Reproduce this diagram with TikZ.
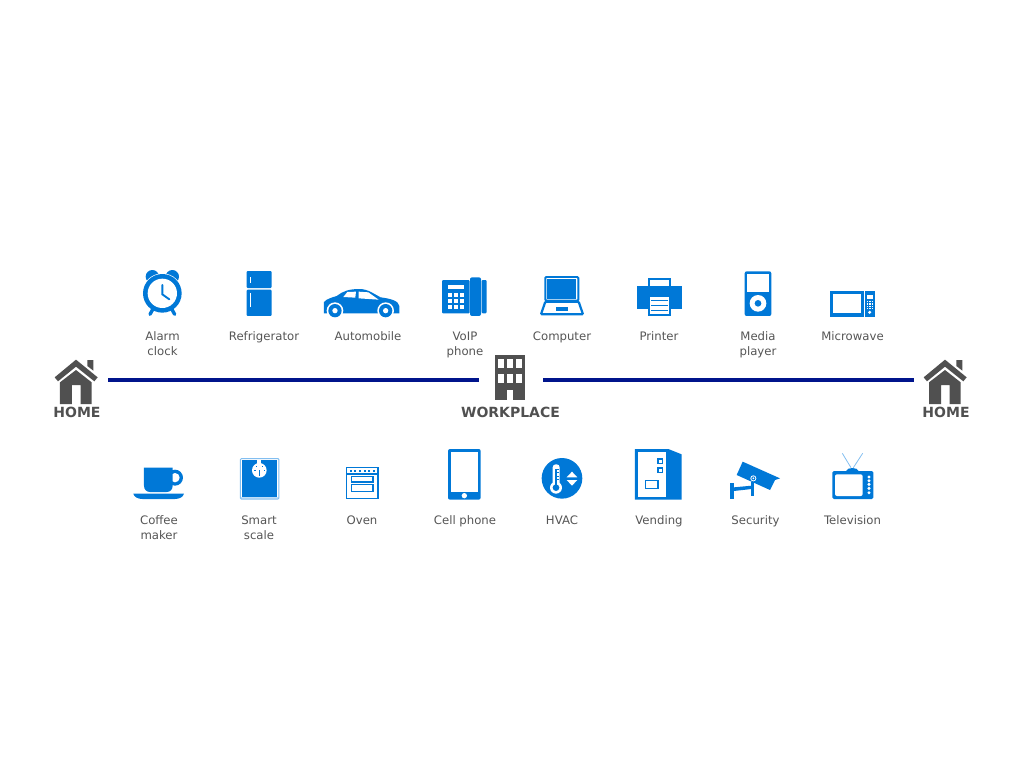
\documentclass[tikz,border=0pt]{standalone}
\usepackage{fontspec}
\setmainfont{DejaVu Sans}
\definecolor{iconblue}{RGB}{0,120,215}
\definecolor{lightblue}{RGB}{130,190,240}
\definecolor{paleblue}{RGB}{190,222,248}
\definecolor{darkgrey}{RGB}{80,80,80}
\definecolor{labelgrey}{RGB}{85,85,85}
\definecolor{linkblue}{RGB}{0,20,140}
\tikzset{
  ic/.style={fill=iconblue,draw=none},
  wh/.style={fill=white,draw=none},
  gr/.style={fill=darkgrey,draw=none},
  ol/.style={draw=iconblue,fill=white,line width=2.2pt},
  thinol/.style={draw=iconblue,line width=1.6pt},
  lbl/.style={anchor=north,align=center,inner sep=0pt,text=labelgrey,font=\fontsize{11.7}{15}\selectfont,execute at begin node={\rule{0pt}{9pt}}},
  hdr/.style={anchor=center,inner sep=0pt,text=darkgrey,font=\fontsize{14}{16}\selectfont\bfseries},
  anchorbox/.style={inner sep=0pt,minimum height=48pt},
  link/.style={draw=linkblue,line width=3.6pt},
  homepic/.pic={
    \fill[gr] (60,97)--(108,60)--(155,97)--(155,162)--(122,162)--(122,105)--(96,105)--(96,162)--(60,162)--cycle;
    \fill[gr] (44,82)--(108,29)--(173,82)--(163,94)--(108,50)--(54,94)--cycle;
    \fill[gr] (142,30)--(160,30)--(160,62)--(142,48)--cycle;
  }
}
\begin{document}
\begin{tikzpicture}[x=1pt,y=-1pt]
\useasboundingbox (0,0) rectangle (1024,768);
% anchors for the connectors
\node[anchorbox,minimum width=62pt] (homeL) at (77,380) {};
\node[anchorbox,minimum width=64pt] (work) at (511,380) {};
\node[anchorbox,minimum width=63pt] (homeR) at (945.5,380) {};
\draw[link] (homeL.east) -- (work.west);
\draw[link] (work.east) -- (homeR.west);
% home icons
\pic[scale=0.3333] at (40,350) {homepic};
\pic[scale=0.3333] at (909,350) {homepic};
% workplace
\begin{scope}[shift={(450,345)},scale=0.3333]
\fill[gr] (135,29) rectangle (226,164);
\foreach \wx in {145,172,199}{\foreach \wy in {41,87}{
  \fill[wh] (\wx,\wy) rectangle +(18,28);}}
\fill[wh] (172,135) rectangle (190,164);
\end{scope}
% top row, first group
\begin{scope}[shift={(120,260)},scale=0.3333]
% alarm clock
\fill[ic] (97,50) circle (20); \fill[ic] (157,50) circle (20);
\fill[wh] (127,100) circle (60);
\draw[iconblue,line width=3.4pt,line cap=round] (100,145)--(90,163);
\draw[iconblue,line width=3.4pt,line cap=round] (154,145)--(164,163);
\fill[ic] (127,100) circle (58);
\fill[wh] (127,100) circle (44);
\draw[iconblue,line width=1.9pt,line cap=round] (127,75)--(127,103)--(148,118);
% refrigerator
\fill[ic,rounded corners=1pt] (380,33) rectangle (455,84);
\fill[ic,rounded corners=1pt] (380,89) rectangle (455,168);
\fill[wh] (389,50) rectangle (394,70);
\fill[wh] (389,100) rectangle (394,140);
% automobile
\fill[ic] (612,158)--(612,126)..controls (620,116) and (638,112) ..(650,108)
  ..controls (668,94) and (686,87) ..(718,87)..controls (745,87) and (762,102) ..(782,112)
  ..controls (812,116) and (836,122) ..(838,138)--(838,160)--(612,160)--cycle;
\fill[wh] (670,111)--(682,96)--(708,95)--(706,113)--cycle;
\fill[wh] (716,95)--(745,97)--(776,119)--(716,115)--cycle;
\foreach \cx in {645,797}{
  \fill[wh] (\cx,152) circle (25);
  \fill[ic] (\cx,152) circle (20);
  \fill[wh] (\cx,152) circle (8);}
\end{scope}
% top row, second group
\begin{scope}[shift={(420,260)},scale=0.3333]
% VoIP phone
\fill[ic,rounded corners=1pt] (66,60) rectangle (149,160);
\fill[ic,rounded corners=2pt] (150,52) rectangle (183,168);
\fill[ic,rounded corners=1pt] (185,60) rectangle (200,160);
\fill[wh] (84,75) rectangle (132,88);
\foreach \kx in {84,102,120}{\foreach \ky in {98,117,136}{
  \fill[wh] (\kx,\ky) rectangle +(12,12);}}
% computer
\draw[ol,rounded corners=1pt] (363,163)--(376,125)--(476,125)--(489,163)--cycle;
\draw[ol,line width=1.9pt,rounded corners=1pt] (376,51) rectangle (475,122);
\fill[ic] (382,57) rectangle (469,116);
\fill[ic] (408,140) rectangle (443,152);
% printer
\draw[ol] (686,56) rectangle (751,85);
\fill[ic] (650,78) rectangle (785,148);
\draw[ol] (686,109) rectangle (751,165);
\foreach \ly in {119,134,149}{\fill[ic] (693,\ly) rectangle (745,\ly+4);}
\end{scope}
% top row, third group
\begin{scope}[shift={(720,260)},scale=0.3333]
% media player
\fill[ic,rounded corners=2pt] (74,34) rectangle (154,168);
\fill[wh] (82,42) rectangle (146,96);
\fill[wh] (114,130) circle (25);
\fill[ic] (114,130) circle (10);
% microwave
\fill[ic] (330,93) rectangle (431,170);
\fill[ic] (435,93) rectangle (464,170);
\fill[wh] (338,103) rectangle (424,158);
\fill[wh] (441,106) rectangle (459,118);
\foreach \kx in {441,448,455}{\foreach \ky in {123,130,137,144}{
  \fill[wh] (\kx,\ky) rectangle +(4,4);}}
\fill[wh] (449,157) circle (5);
\end{scope}
% bottom row, first group
\begin{scope}[shift={(120,445)},scale=0.3333]
% coffee maker
\fill[ic] (165,98) circle (24);
\fill[wh] (165,98) circle (14);
\fill[ic] (72,68)--(158,68)--(158,122)..controls (158,134) and (150,141) ..(140,141)--(90,141)
  ..controls (80,141) and (72,134) ..(72,122)--cycle;
\fill[ic] (40,146)--(192,146)..controls (190,156) and (178,162) ..(165,162)--(67,162)
  ..controls (54,162) and (42,156) ..(40,146)--cycle;
% smart scale
\fill[wh] (360,40) rectangle (478,163);
\fill[paleblue] (362,155) rectangle (476,162);
\draw[lightblue,line width=1pt,rounded corners=1pt] (361,41) rectangle (477,162);
\fill[ic] (366,46) rectangle (472,155);
\fill[wh] (418,76) circle (22);
\fill[wh] (412,46) rectangle (424,58);
\fill[ic] (416.5,76) rectangle (419.5,92);
\foreach \tx in {403,431}{\fill[ic] (\tx,75) rectangle +(4,3);}
\foreach \tx in {409,425}{\fill[ic] (\tx,63) rectangle +(3,3);}
% oven
\draw[thinol,fill=white] (679,67) rectangle (774,161);
\draw[thinol] (679,87)--(774,87);
\foreach \dx in {689,703,717,731,745,759}{\fill[ic] (\dx,74) rectangle +(6,6);}
\draw[thinol] (694,94) rectangle (759,111);
\draw[thinol] (694,119) rectangle (759,140);
\end{scope}
% bottom row, second group
\begin{scope}[shift={(420,445)},scale=0.3333]
% cell phone
\fill[ic,rounded corners=2pt] (84,12) rectangle (182,164);
\fill[wh] (92,22) rectangle (174,142);
\fill[wh] (133,152) circle (8);
% HVAC
\fill[ic] (426,100) circle (61);
\fill[wh,rounded corners=3pt] (398,58) rectangle (419,125);
\fill[wh] (408,128) circle (18);
\fill[ic] (405,72) rectangle (411,125);
\fill[ic] (408,128) circle (10);
\foreach \ty in {72,82,92,102}{\fill[ic] (412,\ty) rectangle +(5,2);}
\fill[wh] (440,97)--(472,97)--(456,80)--cycle;
\fill[wh] (440,105)--(472,105)--(456,122)--cycle;
% vending
\fill[ic] (645,12)--(745,12)--(785,28)--(785,164)--(645,164)--cycle;
\fill[wh] (653,20) rectangle (738,156);
\draw[thinol] (714,42) rectangle (728,56);
\draw[thinol] (714,69) rectangle (728,83);
\draw[thinol] (676,106) rectangle (714,131);
\end{scope}
% bottom row, third group
\begin{scope}[shift={(720,445)},scale=0.3333]
% security
\fill[ic] (68,50)--(180,100)--(165,105)--(150,135)--(50,90)--cycle;
\fill[wh] (100,100) circle (9);
\fill[ic] (100,100) circle (6);
\fill[wh] (100,100) circle (3);
\fill[ic] (30,115) rectangle (42,163);
\fill[ic] (42,127)--(95,122)--(95,132)--(42,138)--cycle;
\fill[ic] (93,110) rectangle (102,152);
% television
\draw[lightblue,line width=0.8pt] (367,25)--(393,68);
\draw[lightblue,line width=0.8pt] (428,25)--(400,68);
\fill[ic] (378,78)..controls (382,66) and (412,66) ..(416,78)--cycle;
\fill[ic,rounded corners=1.5pt] (337,78) rectangle (460,162);
\fill[wh,rounded corners=2pt] (345,88) rectangle (428,153);
\foreach \dy in {96,107,118,130,143}{\fill[wh] (447,\dy) circle (5);}
\end{scope}
% labels
\node[lbl] (t1) at (162.5,331.5) {Alarm\\clock};
\node[lbl] (t2) at (264,331.5) {Refrigerator};
\node[lbl] (t3) at (368,331.5) {Automobile};
\node[lbl] (t4) at (465,331.5) {VoIP\\phone};
\node[lbl] (t5) at (562,331.5) {Computer};
\node[lbl] (t6) at (659,331.5) {Printer};
\node[lbl] (t7) at (758,331.5) {Media\\player};
\node[lbl] (t8) at (852.5,331.5) {Microwave};
\node[lbl] (b1) at (159,515.5) {Coffee\\maker};
\node[lbl] (b2) at (259,515.5) {Smart\\scale};
\node[lbl] (b3) at (362,515.5) {Oven};
\node[lbl] (b4) at (465,515.5) {Cell phone};
\node[lbl] (b5) at (562,515.5) {HVAC};
\node[lbl] (b6) at (659,515.5) {Vending};
\node[lbl] (b7) at (755.5,515.5) {Security};
\node[lbl] (b8) at (852.5,515.5) {Television};
\node[hdr] (h1) at (77,412) {HOME};
\node[hdr] (h2) at (510.5,412) {WORKPLACE};
\node[hdr] (h3) at (946,412) {HOME};
\end{tikzpicture}
\end{document}
